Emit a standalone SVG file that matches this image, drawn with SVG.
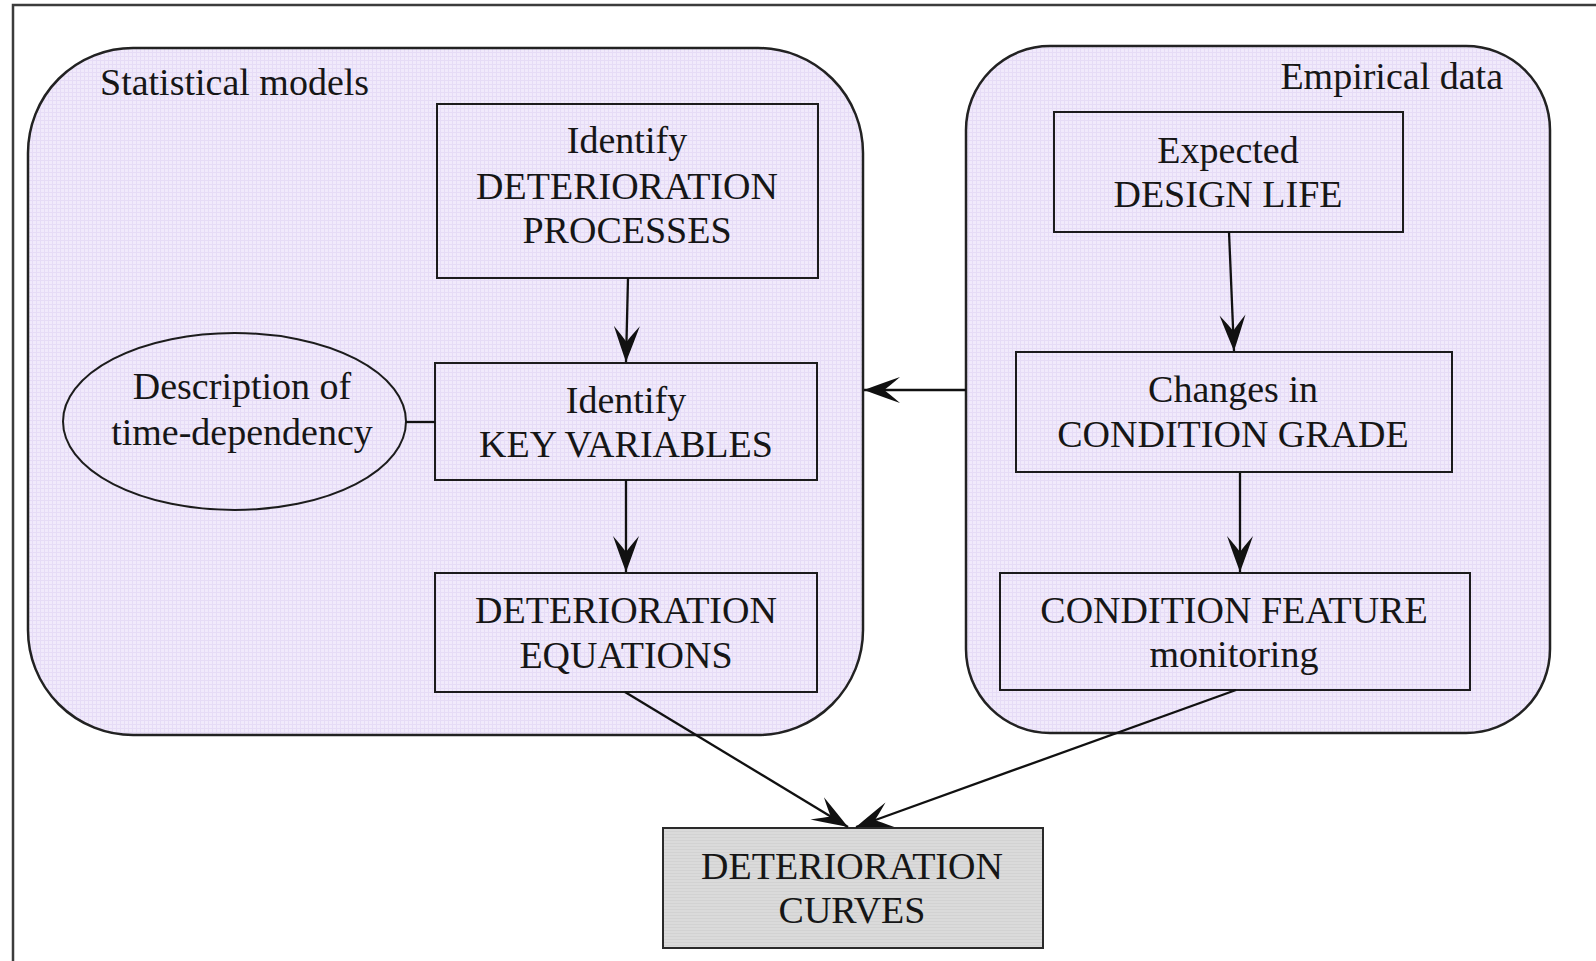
<svg xmlns="http://www.w3.org/2000/svg" width="1596" height="961" viewBox="0 0 1596 961">
  <defs>
    <!-- fine lavender weave used inside the two group panels -->
    <pattern id="lavender" width="4" height="4" patternUnits="userSpaceOnUse">
      <rect width="4" height="4" fill="#F1EAFB"/>
      <path d="M0 0.5H4M0.5 0V4" stroke="#E6DCF6" stroke-width="1"/>
    </pattern>
    <pattern id="greyweave" width="3" height="3" patternUnits="userSpaceOnUse">
      <rect width="3" height="3" fill="#DADADA"/>
      <path d="M0 0.5H3" stroke="#D2D2D2" stroke-width="1"/>
    </pattern>
    <!-- swept-back barbed arrowhead -->
    <marker id="barb" markerUnits="userSpaceOnUse" markerWidth="42" markerHeight="32" viewBox="-38 -16 40 32" refX="0" refY="0" orient="auto">
      <path d="M0,0 Q-16,-6 -36,-13 Q-25,-3.5 -20,0 Q-25,3.5 -36,13 Q-16,6 0,0 Z" fill="#111"/>
    </marker>
    <style>
      .frame { fill: none; stroke: #3c3c3c; stroke-width: 2.5; }
      .panel { fill: url(#lavender); stroke: #222; stroke-width: 2.5; }
      .box { fill: none; stroke: #1c1c1c; stroke-width: 2; }
      .result { fill: url(#greyweave); stroke: #2a2a2a; stroke-width: 2; }
      .oval { fill: none; stroke: #1c1c1c; stroke-width: 2; }
      .label { font-family: "Liberation Serif", "Times New Roman", serif; font-size: 38px; fill: #161616; }
      .mid { text-anchor: middle; }
      .edge { fill: none; stroke: #111; stroke-width: 2.3; }
      .arrow { marker-end: url(#barb); }
    </style>
  </defs>

  <rect width="1596" height="961" fill="#FFFFFF"/>
  <rect class="frame" x="13" y="5" width="1600" height="1000"/>

  <!-- group panels -->
  <g id="statistical-models">
    <rect class="panel" x="28" y="48" width="835" height="687" rx="105" ry="105"/>
    <text class="label" x="100" y="95">Statistical models</text>
  </g>
  <g id="empirical-data">
    <rect class="panel" x="966" y="46" width="584" height="687" rx="84" ry="84"/>
    <text class="label" x="1503" y="89" text-anchor="end">Empirical data</text>
  </g>

  <!-- statistical side -->
  <g id="deterioration-processes">
    <rect class="box" x="437" y="104" width="381" height="174"/>
    <text class="label mid" x="627" y="153">Identify</text>
    <text class="label mid" x="627" y="199">DETERIORATION</text>
    <text class="label mid" x="627" y="243">PROCESSES</text>
  </g>
  <g id="key-variables">
    <rect class="box" x="435" y="363" width="382" height="117"/>
    <text class="label mid" x="626" y="413">Identify</text>
    <text class="label mid" x="626" y="457">KEY VARIABLES</text>
  </g>
  <g id="time-dependency">
    <ellipse class="oval" cx="234.5" cy="421.5" rx="171.5" ry="88.5"/>
    <text class="label mid" x="242" y="399">Description of</text>
    <text class="label mid" x="242" y="445">time-dependency</text>
  </g>
  <g id="deterioration-equations">
    <rect class="box" x="435" y="573" width="382" height="119"/>
    <text class="label mid" x="626" y="623">DETERIORATION</text>
    <text class="label mid" x="626" y="668">EQUATIONS</text>
  </g>

  <!-- empirical side -->
  <g id="design-life">
    <rect class="box" x="1054" y="112" width="349" height="120"/>
    <text class="label mid" x="1228" y="163">Expected</text>
    <text class="label mid" x="1228" y="207">DESIGN LIFE</text>
  </g>
  <g id="condition-grade">
    <rect class="box" x="1016" y="352" width="436" height="120"/>
    <text class="label mid" x="1233" y="402">Changes in</text>
    <text class="label mid" x="1233" y="447">CONDITION GRADE</text>
  </g>
  <g id="condition-feature">
    <rect class="box" x="1000" y="573" width="470" height="117"/>
    <text class="label mid" x="1234" y="623">CONDITION FEATURE</text>
    <text class="label mid" x="1234" y="667">monitoring</text>
  </g>

  <!-- outcome -->
  <g id="deterioration-curves">
    <rect class="result" x="663" y="828" width="380" height="120"/>
    <text class="label mid" x="852" y="879">DETERIORATION</text>
    <text class="label mid" x="852" y="923">CURVES</text>
  </g>

  <!-- connectors -->
  <g id="connectors">
    <line class="edge" x1="406" y1="422" x2="435" y2="422"/>
    <line class="edge arrow" x1="628" y1="278" x2="626" y2="362"/>
    <line class="edge arrow" x1="626" y1="480" x2="626" y2="572"/>
    <line class="edge arrow" x1="1229" y1="232" x2="1234" y2="351"/>
    <line class="edge arrow" x1="1240" y1="473" x2="1240" y2="572"/>
    <line class="edge arrow" x1="966" y1="390" x2="864" y2="390"/>
    <line class="edge arrow" x1="625" y1="692" x2="848" y2="827"/>
    <line class="edge arrow" x1="1236" y1="690" x2="856" y2="827"/>
  </g>
</svg>
